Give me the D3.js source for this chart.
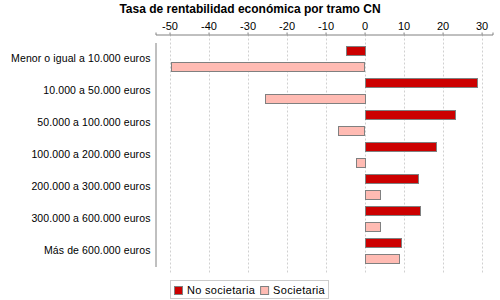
<!DOCTYPE html>
<html lang="es">
<head>
<meta charset="utf-8">
<title>Tasa de rentabilidad económica por tramo CN</title>
<script src="https://cdn.jsdelivr.net/npm/d3@7"></script>
<style>
    body { margin: 0; background: #fff; font-family: "Liberation Sans", Arial, sans-serif; }
    svg text { fill: #000; }
    .grid line { stroke: #d0d0d0; stroke-dasharray: 2,2; }
    .bar { stroke: #808080; stroke-width: 1; }
</style>
</head>
<body>
<svg id="chart" width="500" height="300"></svg>
<script>
// data
const tramos = [
    "Menor o igual a 10.000 euros",
    "10.000 a 50.000 euros",
    "50.000 a 100.000 euros",
    "100.000 a 200.000 euros",
    "200.000 a 300.000 euros",
    "300.000 a 600.000 euros",
    "Más de 600.000 euros"
];
const series = ["No societaria", "Societaria"];
const noSocietaria = [-4.8, 28.8, 23.1, 18.2, 13.6, 14.2, 9.2];
const societaria = [-49.6, -25.6, -6.7, -2.3, 3.9, 3.9, 8.8];
const colors = ["#cc0000", "#ffbbb3"];
const xTicks = [-50, -40, -30, -20, -10, 0, 10, 20, 30];

const values = [noSocietaria, societaria];

// plot area
const plot = { left: 155.5, right: 492.5, top: 34.5, bottom: 274.5 };

const svg = d3.select("#chart");

svg.append("text")
    .attr("x", 250)
    .attr("y", 13)
    .attr("text-anchor", "middle")
    .style("font-size", "12px")
    .style("font-weight", "bold")
    .text("Tasa de rentabilidad económica por tramo CN");

const x = d3.scaleLinear()
    .domain([-53.6, 32.8])
    .range([plot.left, plot.right]);

const y0 = d3.scaleBand()
    .domain(tramos)
    .range([plot.top + 8, plot.bottom - 8]);

const y1 = d3.scaleBand()
    .domain(series)
    .range([0, y0.bandwidth()])
    .paddingInner(0.42)
    .paddingOuter(0.24);

// grid lines
svg.append("g")
    .attr("class", "grid")
    .selectAll("line")
    .data(xTicks)
    .join("line")
    .attr("x1", d => Math.round(x(d)) + 0.5)
    .attr("x2", d => Math.round(x(d)) + 0.5)
    .attr("y1", plot.top)
    .attr("y2", plot.bottom);

// bars
tramos.forEach((t, i) => {
    series.forEach((s, j) => {
        const v = values[j][i];
        svg.append("rect")
            .attr("class", "bar")
            .attr("x", Math.round(x(Math.min(0, v))) + 0.5)
            .attr("y", Math.round(y0(t) + y1(s)) + 0.5)
            .attr("width", Math.round(Math.abs(x(v) - x(0))))
            .attr("height", Math.round(y1.bandwidth()))
            .attr("fill", colors[j]);
    });
});

// top axis
const xAxis = svg.append("g")
    .attr("transform", `translate(0,${plot.top})`)
    .call(d3.axisTop(x).tickValues(xTicks).tickSize(2).tickPadding(3)
        .tickFormat(d => String(d)));
xAxis.select(".domain").attr("stroke", "#808080");
xAxis.selectAll(".tick line").attr("stroke", "#808080");
xAxis.selectAll("text")
    .attr("fill", "#333")
    .style("font-size", "11px")
    .style("font-family", "Liberation Sans, Arial, sans-serif");

// left axis (categories)
const yAxis = svg.append("g")
    .attr("transform", `translate(${plot.left},0)`)
    .call(d3.axisLeft(y0).tickSize(0).tickPadding(5));
yAxis.select(".domain").attr("stroke", "#808080");
yAxis.selectAll("text")
    .attr("fill", "#222")
    .style("font-size", "10.5px")
    .style("letter-spacing", "0.1px")
    .style("font-family", "Liberation Sans, Arial, sans-serif");

// legend
const legend = svg.append("g");
const box = legend.append("rect")
    .attr("fill", "#fff")
    .attr("stroke", "#cccccc");
let cx = 0;
series.forEach((s, j) => {
    legend.append("rect")
        .attr("x", cx + 0.5)
        .attr("y", 286.5)
        .attr("width", 8)
        .attr("height", 8)
        .attr("fill", colors[j])
        .attr("stroke", "#808080");
    const txt = legend.append("text")
        .attr("x", cx + 13)
        .attr("y", 294)
        .style("font-size", "11px")
        .style("letter-spacing", "0.3px")
        .text(s);
    cx += 13 + txt.node().getComputedTextLength() + 5;
});
const legendW = cx - 5;
legend.attr("transform", `translate(${Math.round(250 - legendW / 2)},0)`);
box.attr("x", -3.5).attr("y", 280.5).attr("width", legendW + 7).attr("height", 18);
</script>
</body>
</html>
